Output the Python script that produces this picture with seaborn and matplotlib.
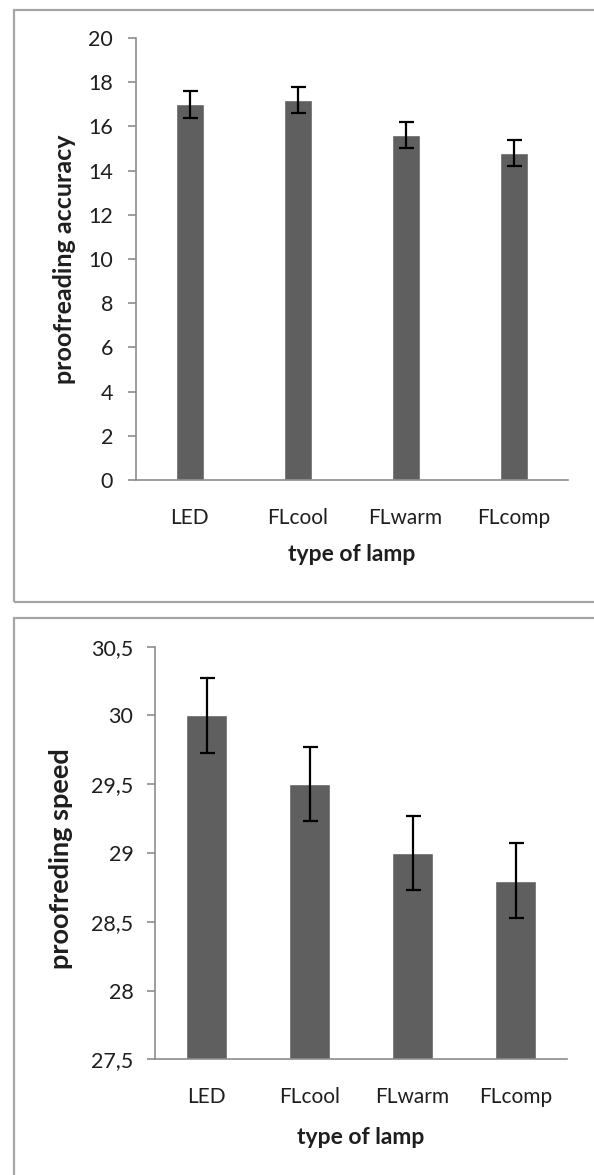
import numpy as np
import pandas as pd
import matplotlib
matplotlib.use("Agg")
import matplotlib.pyplot as plt
import seaborn as sns
from matplotlib.patches import Rectangle
from matplotlib.ticker import FuncFormatter

lamps = ["LED", "FLcool", "FLwarm", "FLcomp"]
accuracy = [17.0, 17.2, 15.6, 14.8]
accuracy_err = [0.6, 0.6, 0.58, 0.58]
speed = [30.0, 29.5, 29.0, 28.8]
speed_err = [0.27, 0.27, 0.27, 0.27]

sns.set_theme(style="white")
plt.rcParams["font.family"] = ["Lato", "DejaVu Sans"]

W, H = 594, 1175
fig = plt.figure(figsize=(W / 100, H / 100), dpi=100)

# panel borders
fig.patches.append(Rectangle((14 / W, 1 - 602 / H), 1.0, (602 - 10) / H,
                             transform=fig.transFigure, fill=False,
                             edgecolor="#a6a6a6", linewidth=1.6))
fig.patches.append(Rectangle((13.5 / W, -0.1), 1.0, 0.1 + (1175 - 618) / H,
                             transform=fig.transFigure, fill=False,
                             edgecolor="#a6a6a6", linewidth=1.6))

bar_color = "#5f5f5f"
axis_color = "#8c8c8c"
text_color = "#1e1e1e"


def style(ax, ypad):
    sns.despine(ax=ax)
    for s in ("left", "bottom"):
        ax.spines[s].set_color(axis_color)
        ax.spines[s].set_linewidth(1.2)
    ax.tick_params(axis="y", length=6, width=1.2, color=axis_color,
                   labelsize=15.5, labelcolor=text_color, pad=ypad, left=True)
    ax.tick_params(axis="x", length=0, labelsize=15, labelcolor=text_color, pad=20)
    ax.set_xlim(-0.5, 3.5)


# top panel
x0, x1 = 136, 567.5
ax1 = fig.add_axes([x0 / W, 1 - 480 / H, (x1 - x0) / W, (480 - 38) / H])
df1 = pd.DataFrame({"lamp": lamps, "val": accuracy})
sns.barplot(data=df1, x="lamp", y="val", color=bar_color, width=0.26,
            saturation=1, ax=ax1, errorbar=None)
ax1.errorbar(np.arange(len(lamps)), accuracy, yerr=accuracy_err, fmt="none",
             ecolor="black", elinewidth=1.6, capsize=5.4, capthick=1.6)
ax1.set_ylim(0, 20)
ax1.set_yticks(np.arange(0, 21, 2))
style(ax1, 10.5)
ax1.set_xlabel("type of lamp", fontsize=16.5, fontweight="bold", labelpad=12,
               color=text_color)
ax1.set_ylabel("proofreading accuracy", fontsize=18, fontweight="bold",
               color=text_color)
ax1.yaxis.set_label_coords((76 - x0) / (x1 - x0), 0.5)

# bottom panel
b0, b1 = 155, 567
ax2 = fig.add_axes([b0 / W, 1 - 1059.3 / H, (b1 - b0) / W, (1059.3 - 646.7) / H])
df2 = pd.DataFrame({"lamp": lamps, "val": speed})
sns.barplot(data=df2, x="lamp", y="val", color=bar_color, width=0.39,
            saturation=1, ax=ax2, errorbar=None)
ax2.errorbar(np.arange(len(lamps)), speed, yerr=speed_err, fmt="none",
             ecolor="black", elinewidth=1.6, capsize=5.4, capthick=1.6)
ax2.set_ylim(27.5, 30.5)
ax2.set_yticks(np.arange(27.5, 30.51, 0.5))
ax2.yaxis.set_major_formatter(FuncFormatter(lambda v, p: f"{v:g}".replace(".", ",")))
style(ax2, 9.5)
ax2.set_xlabel("type of lamp", fontsize=16.5, fontweight="bold", labelpad=14,
               color=text_color)
ax2.set_ylabel("proofreding speed", fontsize=19.5, fontweight="bold",
               color=text_color)
ax2.yaxis.set_label_coords((73 - b0) / (b1 - b0), (1059.3 - 859) / 412.6)

fig.savefig("out.png", dpi=100, facecolor="white")
